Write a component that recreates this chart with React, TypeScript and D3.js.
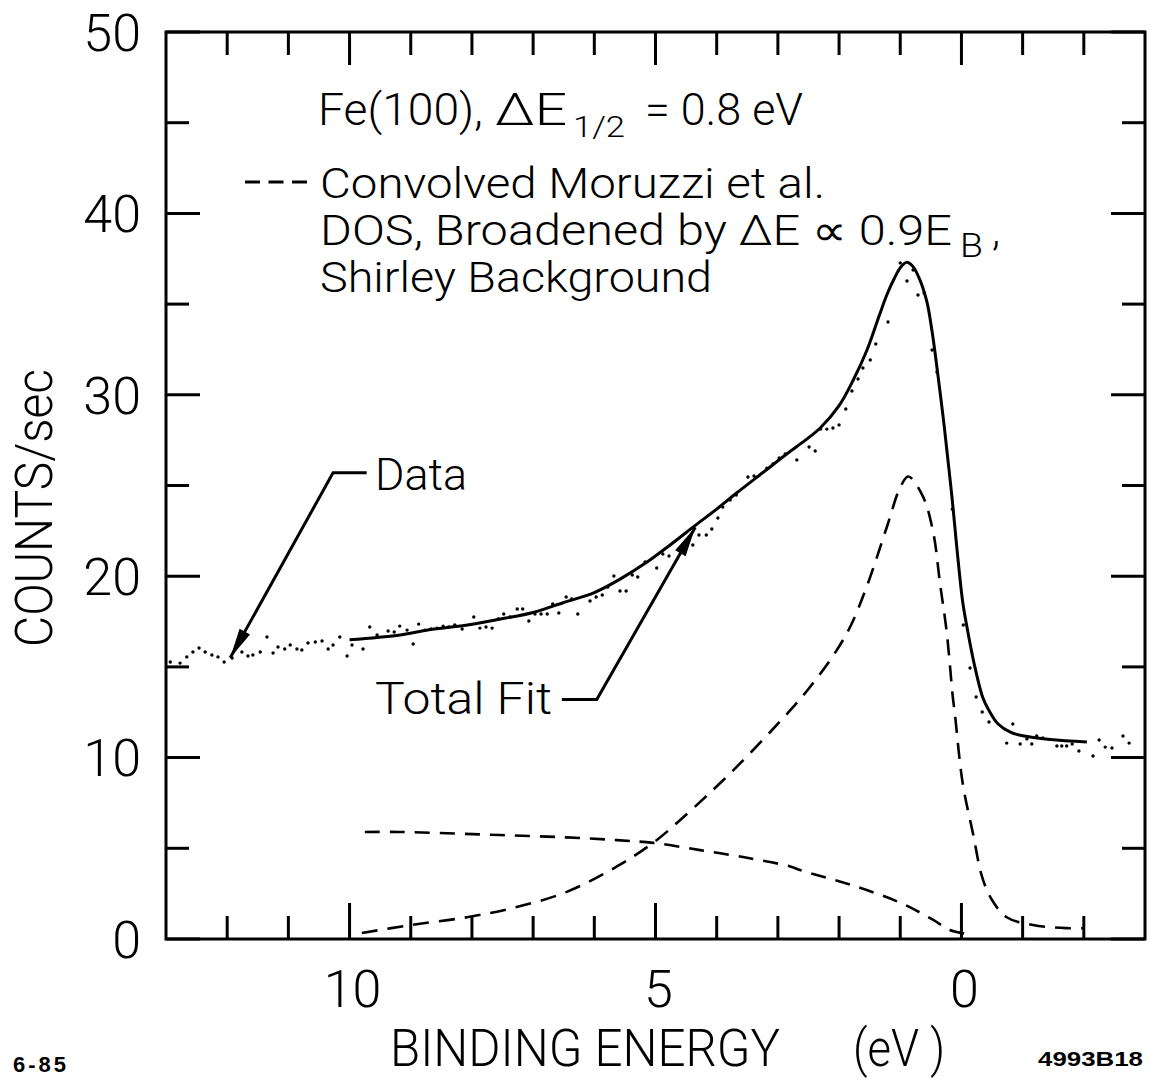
import React from "react";
import * as d3 from "d3";

const W = 1150;
const H = 1082;

// Axis ticks (binding energy runs right-to-left)
const xMajorTicks = [10, 5, 0];
const xMinorTicks = [12, 11, 9, 8, 7, 6, 4, 3, 2, 1, -1, -2];
const yMajorTicks = [0, 10, 20, 30, 40, 50];
const yMinorTicks = [5, 15, 25, 35, 45];

// Measured photoemission counts: [binding energy (eV), counts/sec]
const dataPoints: [number, number][] = [
  [12.93, 15.27], [12.77, 15.21], [12.66, 15.55], [12.56, 15.82], [12.46, 16.04],
  [12.36, 15.82], [12.25, 15.66], [12.15, 15.55], [12.05, 15.27], [11.92, 15.49],
  [11.76, 15.82], [11.66, 15.6], [11.58, 15.66], [11.46, 15.82], [11.35, 16.65],
  [11.25, 15.77], [11.17, 16.1], [11.06, 15.99], [10.97, 16.21], [10.86, 15.99],
  [10.78, 15.93], [10.68, 16.32], [10.56, 16.37], [10.45, 16.43], [10.35, 15.99],
  [10.27, 16.21], [10.16, 16.65], [10.04, 15.6], [9.96, 16.21], [9.78, 15.99],
  [9.67, 17.2], [9.55, 16.76], [9.37, 16.98], [9.27, 16.92], [9.18, 17.25],
  [9.06, 17.03], [8.96, 16.26], [8.87, 17.36], [8.77, 17.03], [8.67, 17.09],
  [8.57, 17.14], [8.47, 17.25], [8.38, 17.2], [8.28, 17.31], [8.16, 17.09],
  [7.97, 17.75], [7.87, 17.14], [7.77, 17.2], [7.67, 17.14], [7.57, 17.64],
  [7.48, 17.92], [7.38, 17.75], [7.26, 18.19], [7.17, 18.19], [7.07, 17.53],
  [6.97, 17.92], [6.87, 17.92], [6.77, 17.92], [6.68, 18.47], [6.58, 17.97],
  [6.46, 18.85], [6.37, 18.74], [6.27, 17.92], [6.07, 18.63], [5.97, 18.85],
  [5.87, 18.96], [5.78, 19.4], [5.68, 20.01], [5.58, 19.18], [5.48, 19.18],
  [5.38, 20.07], [5.29, 19.96], [5.17, 20.78], [4.98, 20.45], [4.88, 21.22],
  [4.78, 21.11], [4.58, 21.55], [4.39, 21.72], [4.29, 22.27], [4.17, 22.27],
  [4.08, 22.6], [3.98, 23.21], [3.9, 23.81], [3.78, 24.2], [3.68, 24.48],
  [3.49, 25.47], [3.39, 25.52], [3.18, 25.96], [3.08, 26.19], [2.98, 26.52],
  [2.88, 26.74], [2.69, 26.41], [2.49, 27.12], [2.39, 26.9], [2.3, 28.11],
  [2.2, 28.11], [2.1, 28.17], [2.0, 28.34], [1.89, 29.22], [1.79, 30.21],
  [1.69, 30.87], [1.61, 31.48], [1.49, 31.92], [1.4, 32.8], [1.2, 34.01],
  [1.0, 37.27], [0.89, 36.27], [0.79, 36.88], [0.71, 35.5], [0.61, 35.61],
  [0.48, 32.47], [0.4, 31.26], [0.15, 23.7], [-0.03, 17.31], [-0.14, 14.94],
  [-0.24, 13.34], [-0.34, 12.51], [-0.45, 11.96], [-0.74, 10.8], [-0.84, 11.85],
  [-0.96, 10.75], [-1.07, 11.03], [-1.15, 10.75], [-1.23, 11.19], [-1.33, 11.08],
  [-1.56, 10.64], [-1.64, 10.64], [-1.72, 10.64], [-1.81, 10.75], [-1.92, 10.36],
  [-2.15, 10.09], [-2.25, 10.97], [-2.35, 10.58], [-2.46, 10.53], [-2.64, 11.19],
  [-2.74, 10.8],
];

// Total fit (solid curve)
const totalFit: [number, number][] = [
  [10.0, 16.5], [9.2, 16.75], [8.7, 17.05], [8.1, 17.3], [7.6, 17.6], [7.0, 18.0],
  [6.5, 18.55], [6.0, 19.1], [5.6, 19.8], [5.15, 20.75], [4.75, 21.75], [4.35, 22.8],
  [4.0, 23.7], [3.67, 24.6], [3.25, 25.7], [2.85, 26.75], [2.55, 27.5], [2.3, 28.2],
  [2.0, 29.4], [1.77, 30.8], [1.54, 32.5], [1.35, 34.3], [1.22, 35.5], [1.1, 36.4],
  [1.0, 37.0], [0.9, 37.3], [0.8, 37.1], [0.7, 36.5], [0.57, 35.2], [0.48, 33.5],
  [0.4, 31.5], [0.3, 28.8], [0.24, 27.0], [0.15, 24.2], [0.07, 21.4], [-0.02, 18.6],
  [-0.09, 17.2], [-0.2, 15.3], [-0.35, 13.3], [-0.45, 12.6], [-0.6, 11.85],
  [-0.8, 11.4], [-1.0, 11.2], [-1.45, 11.0], [-2.05, 10.86],
];

// Convolved Moruzzi et al. DOS (dashed)
const dosCurve: [number, number][] = [
  [9.8, 0.33], [9.0, 0.77], [8.08, 1.2], [7.27, 1.76], [6.45, 2.6], [5.63, 4.0],
  [5.04, 5.3], [4.55, 6.7], [3.73, 9.3], [2.8, 12.6], [2.52, 13.7], [2.1, 15.6],
  [1.82, 17.2], [1.54, 19.5], [1.22, 22.7], [1.0, 24.9], [0.87, 25.5], [0.63, 24.4],
  [0.46, 22.4], [0.35, 19.6], [0.24, 16.9], [0.14, 13.3], [0.11, 12.5], [-0.02, 8.6],
  [-0.19, 5.8], [-0.34, 3.4], [-0.5, 2.15], [-0.74, 1.2], [-1.17, 0.77], [-1.72, 0.6],
  [-2.0, 0.6],
];

// Shirley background (dashed)
const shirleyBg: [number, number][] = [
  [9.75, 5.9], [9.18, 5.9], [7.54, 5.73], [6.45, 5.6], [5.63, 5.45], [5.04, 5.3],
  [4.27, 4.9], [3.46, 4.45], [2.8, 4.0], [2.64, 3.8], [1.82, 3.0], [1.0, 2.0],
  [0.46, 1.05], [0.19, 0.5], [-0.19, 0.22],
];

// Leader lines for the labels: [E, counts] vertices, last one is the arrow tip
const dataLeader: [number, number][] = [[9.72, 25.7], [10.27, 25.7], [11.95, 15.5]];
const fitLeader: [number, number][] = [[6.53, 13.2], [5.96, 13.2], [4.35, 22.7]];

const LETTER = "Roboto, 'DejaVu Sans', sans-serif";

export default function App() {
  const x = d3.scaleLinear().domain([13, -3]).range([166, 1145]);
  const y = d3.scaleLinear().domain([0, 50]).range([939, 32]);
  const [x0, x1] = x.range();
  const [y0, y1] = y.range();

  const curve = d3
    .line<[number, number]>()
    .x((d) => x(d[0]))
    .y((d) => y(d[1]))
    .curve(d3.curveCatmullRom.alpha(0.5));
  const poly = d3
    .line<[number, number]>()
    .x((d) => x(d[0]))
    .y((d) => y(d[1]));

  const arrowHead = (pts: [number, number][]) => {
    const a = pts[pts.length - 2];
    const b = pts[pts.length - 1];
    const ax = x(a[0]), ay = y(a[1]);
    const bx = x(b[0]), by = y(b[1]);
    const ang = Math.atan2(by - ay, bx - ax);
    const len = 30, half = 6;
    const cx = bx - len * Math.cos(ang), cy = by - len * Math.sin(ang);
    const px = -Math.sin(ang) * half, py = Math.cos(ang) * half;
    return `M${bx},${by}L${cx + px},${cy + py}L${cx - px},${cy - py}Z`;
  };

  const tickStroke = { stroke: "#000", strokeWidth: 3 };
  const lt = { fontFamily: LETTER, fontWeight: 300, fill: "#000" } as const;

  return (
    <svg
      width={W}
      height={H}
      viewBox={`0 0 ${W} ${H}`}
      style={{ position: "absolute", left: 0, top: 0, background: "#fff" }}
    >
      <rect width={W} height={H} fill="#fff" />

      {/* frame */}
      <rect x={x0} y={y1} width={x1 - x0} height={y0 - y1} fill="none" stroke="#000" strokeWidth={3} />

      {/* x ticks, bottom and top, pointing inward */}
      {xMajorTicks.map((t) => (
        <g key={"xM" + t}>
          <line x1={x(t)} x2={x(t)} y1={y0} y2={y0 - 36} {...tickStroke} />
          <line x1={x(t)} x2={x(t)} y1={y1} y2={y1 + 33} {...tickStroke} />
        </g>
      ))}
      {xMinorTicks.map((t) => (
        <g key={"xm" + t}>
          <line x1={x(t)} x2={x(t)} y1={y0} y2={y0 - 23} {...tickStroke} />
          <line x1={x(t)} x2={x(t)} y1={y1} y2={y1 + 23} {...tickStroke} />
        </g>
      ))}
      {/* y ticks, left and right */}
      {yMajorTicks.map((t) => (
        <g key={"yM" + t}>
          <line x1={x0} x2={x0 + 34} y1={y(t)} y2={y(t)} {...tickStroke} />
          <line x1={x1} x2={x1 - 34} y1={y(t)} y2={y(t)} {...tickStroke} />
        </g>
      ))}
      {yMinorTicks.map((t) => (
        <g key={"ym" + t}>
          <line x1={x0} x2={x0 + 23} y1={y(t)} y2={y(t)} {...tickStroke} />
          <line x1={x1} x2={x1 - 23} y1={y(t)} y2={y(t)} {...tickStroke} />
        </g>
      ))}

      {/* tick labels */}
      {yMajorTicks.map((t) => (
        <text key={"yl" + t} x={141} y={y(t)} dy="0.36em" textAnchor="end" fontSize={52} {...lt}>
          {t}
        </text>
      ))}
      {xMajorTicks.map((t) => (
        <text key={"xl" + t} x={x(t) + 3} y={1007} textAnchor="middle" fontSize={52} {...lt}>
          {t}
        </text>
      ))}

      {/* axis titles */}
      <text
        transform="translate(52,508) rotate(-90)"
        textAnchor="middle"
        fontSize={52}
        textLength={278}
        lengthAdjust="spacingAndGlyphs"
        {...lt}
      >
        COUNTS/sec
      </text>
      <text x={390} y={1066} fontSize={52} textLength={390} lengthAdjust="spacingAndGlyphs" {...lt}>
        BINDING ENERGY
      </text>
      <text x={853} y={1066} fontSize={52} textLength={92} lengthAdjust="spacingAndGlyphs" {...lt}>
        (eV )
      </text>

      {/* curves */}
      <path d={curve(shirleyBg) || ""} fill="none" stroke="#000" strokeWidth={2.6} strokeDasharray="15 10" />
      <path d={curve(dosCurve) || ""} fill="none" stroke="#000" strokeWidth={2.6} strokeDasharray="16 10" />
      <path d={curve(totalFit) || ""} fill="none" stroke="#000" strokeWidth={3} />
      {dataPoints.map((d, i) => (
        <circle key={"p" + i} cx={x(d[0])} cy={y(d[1])} r={1.7} fill="#000" />
      ))}

      {/* annotation text */}
      <text x={318} y={125} fontSize={44} textLength={165} lengthAdjust="spacingAndGlyphs" {...lt}>
        Fe(100),
      </text>
      <text x={495} y={125} fontSize={44} textLength={72} lengthAdjust="spacingAndGlyphs" {...lt}>
        ΔE
      </text>
      <text x={573} y={137} fontSize={30} textLength={52} lengthAdjust="spacingAndGlyphs" {...lt}>
        1/2
      </text>
      <text x={645} y={125} fontSize={44} textLength={158} lengthAdjust="spacingAndGlyphs" {...lt}>
        = 0.8 eV
      </text>

      <line x1={245} x2={307} y1={182} y2={182} stroke="#000" strokeWidth={3} strokeDasharray="15 8.5" />
      <text x={320} y={198} fontSize={42} textLength={505} lengthAdjust="spacingAndGlyphs" {...lt}>
        Convolved Moruzzi et al.
      </text>
      <text x={320} y={245} fontSize={42} textLength={632} lengthAdjust="spacingAndGlyphs" {...lt}>
        DOS, Broadened by ΔE ∝ 0.9E
      </text>
      <text x={960} y={257} fontSize={34} textLength={23} lengthAdjust="spacingAndGlyphs" {...lt}>
        B
      </text>
      <text x={992} y={245} fontSize={42} {...lt}>
        ,
      </text>
      <text x={320} y={292} fontSize={42} textLength={392} lengthAdjust="spacingAndGlyphs" {...lt}>
        Shirley Background
      </text>

      {/* labelled leaders */}
      <text x={375} y={490} fontSize={44} textLength={92} lengthAdjust="spacingAndGlyphs" {...lt}>
        Data
      </text>
      <path d={poly(dataLeader) || ""} fill="none" stroke="#000" strokeWidth={3} />
      <path d={arrowHead(dataLeader)} fill="#000" />

      <text x={375} y={714} fontSize={44} textLength={177} lengthAdjust="spacingAndGlyphs" {...lt}>
        Total Fit
      </text>
      <path d={poly(fitLeader) || ""} fill="none" stroke="#000" strokeWidth={3} />
      <path d={arrowHead(fitLeader)} fill="#000" />

      {/* figure codes */}
      <text x={13} y={1072} fontSize={22} fontWeight={700} letterSpacing={3} fontFamily="'Liberation Sans', Arial, sans-serif">
        6-85
      </text>
      <text
        x={1038}
        y={1066}
        fontSize={21}
        fontWeight={700}
        textLength={105}
        lengthAdjust="spacingAndGlyphs"
        fontFamily="'Liberation Sans', Arial, sans-serif"
      >
        4993B18
      </text>
    </svg>
  );
}
